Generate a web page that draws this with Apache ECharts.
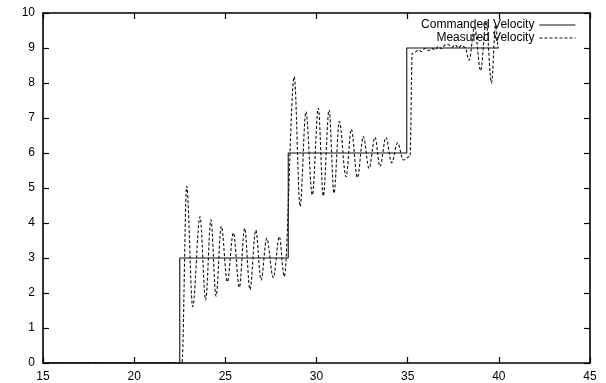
<!DOCTYPE html>
<html>
<head>
<meta charset="utf-8">
<script src="https://cdn.jsdelivr.net/npm/echarts@6/dist/echarts.min.js"></script>
<style>
html,body{margin:0;padding:0;background:#fff;}
#chart{width:606px;height:383px;}
</style>
</head>
<body>
<div id="chart"></div>
<script>
const seriesNames = ['Commanded Velocity', 'Measured Velocity'];
const xTicks = [15, 20, 25, 30, 35, 40, 45];
const yTicks = [0, 1, 2, 3, 4, 5, 6, 7, 8, 9, 10];

const commandedX = [15, 22.5, 22.5, 28.45, 28.45, 34.95, 34.95, 40];
const commandedY = [0, 0, 3, 3, 6, 6, 9, 9];

const measuredX = [15, 22.62, 22.88, 23.21, 23.61, 23.92, 24.21, 24.49, 24.78, 25.11, 25.44, 25.77, 26.06, 26.35, 26.67, 26.96, 27.27, 27.63, 27.96, 28.23,
  28.78, 29.10, 29.42, 29.77, 30.10, 30.37, 30.69, 30.96, 31.25, 31.62, 31.91, 32.24, 32.57, 32.88, 33.21, 33.48, 33.81, 34.12, 34.45, 34.76,
  35.13, 35.25, 35.4, 35.58, 35.77, 35.95, 36.15, 36.32, 36.5, 36.68, 36.87, 37.05, 37.23, 37.42, 37.6, 37.78, 37.96, 38.14, 38.37, 38.67, 39.0, 39.3, 39.6, 39.82, 39.95];
const measuredY = [0, 0, 5.05, 1.61, 4.18, 1.8, 4.09, 1.91, 3.91, 2.32, 3.72, 2.16, 3.85, 2.1, 3.8, 2.37, 3.56, 2.44, 3.61, 2.47,
  8.18, 4.47, 7.18, 4.8, 7.28, 4.77, 7.23, 4.85, 6.9, 5.32, 6.68, 5.3, 6.47, 5.56, 6.45, 5.61, 6.45, 5.72, 6.29, 5.8,
  5.9, 8.85, 8.88, 8.94, 8.9, 8.99, 8.93, 8.99, 8.95, 9.04, 8.98, 9.09, 9.1, 9.02, 9.09, 9.0, 9.08, 9.02, 8.65, 9.6, 8.35, 9.75, 8.0, 9.65, 9.0];

const pair = (xs, ys) => xs.map((x, i) => [x, ys[i]]);

const chart = echarts.init(document.getElementById('chart'), null, {renderer: 'canvas'});
const font = 'Liberation Sans, Arial, Helvetica, sans-serif';
const axisCommon = {
  type: 'value',
  splitLine: {show: false},
  axisLine: {show: true, onZero: false, lineStyle: {color: '#000', width: 1.6}},
  axisTick: {show: true, inside: true, length: 6, lineStyle: {color: '#000', width: 1.2}}
};
chart.setOption({
  animation: false,
  backgroundColor: '#fff',
  grid: {left: 43, right: 16, top: 13, bottom: 20, containLabel: false},
  legend: {
    orient: 'vertical',
    right: 25,
    top: 14,
    align: 'right',
    itemWidth: 36,
    itemHeight: 12,
    itemGap: 1,
    itemStyle: {opacity: 0},
    lineStyle: {width: 1.1},
    textStyle: {fontFamily: font, fontSize: 12, color: '#000'},
    data: seriesNames
  },
  xAxis: [
    Object.assign({}, axisCommon, {
      min: xTicks[0], max: xTicks[xTicks.length - 1], interval: 5, position: 'bottom',
      axisLabel: {fontFamily: font, fontSize: 12, color: '#000', margin: 8}
    }),
    Object.assign({}, axisCommon, {
      min: xTicks[0], max: xTicks[xTicks.length - 1], interval: 5, position: 'top',
      axisLabel: {show: false}
    })
  ],
  yAxis: [
    Object.assign({}, axisCommon, {
      min: yTicks[0], max: yTicks[yTicks.length - 1], interval: 1, position: 'left',
      axisLabel: {fontFamily: font, fontSize: 12, color: '#000', margin: 8}
    }),
    Object.assign({}, axisCommon, {
      min: yTicks[0], max: yTicks[yTicks.length - 1], interval: 1, position: 'right',
      axisLabel: {show: false}
    })
  ],
  series: [
    {
      name: seriesNames[0], type: 'line', symbol: 'none', xAxisIndex: 0, yAxisIndex: 0,
      data: pair(commandedX, commandedY),
      lineStyle: {color: '#111', width: 1.1, type: 'solid'},
      itemStyle: {color: '#111'}
    },
    {
      name: seriesNames[1], type: 'line', symbol: 'none', xAxisIndex: 0, yAxisIndex: 0,
      data: pair(measuredX, measuredY),
      smooth: 0.35, smoothMonotone: 'x',
      lineStyle: {color: '#111', width: 1.1, type: [3, 2]},
      itemStyle: {color: '#111'}
    }
  ]
});
</script>
</body>
</html>
